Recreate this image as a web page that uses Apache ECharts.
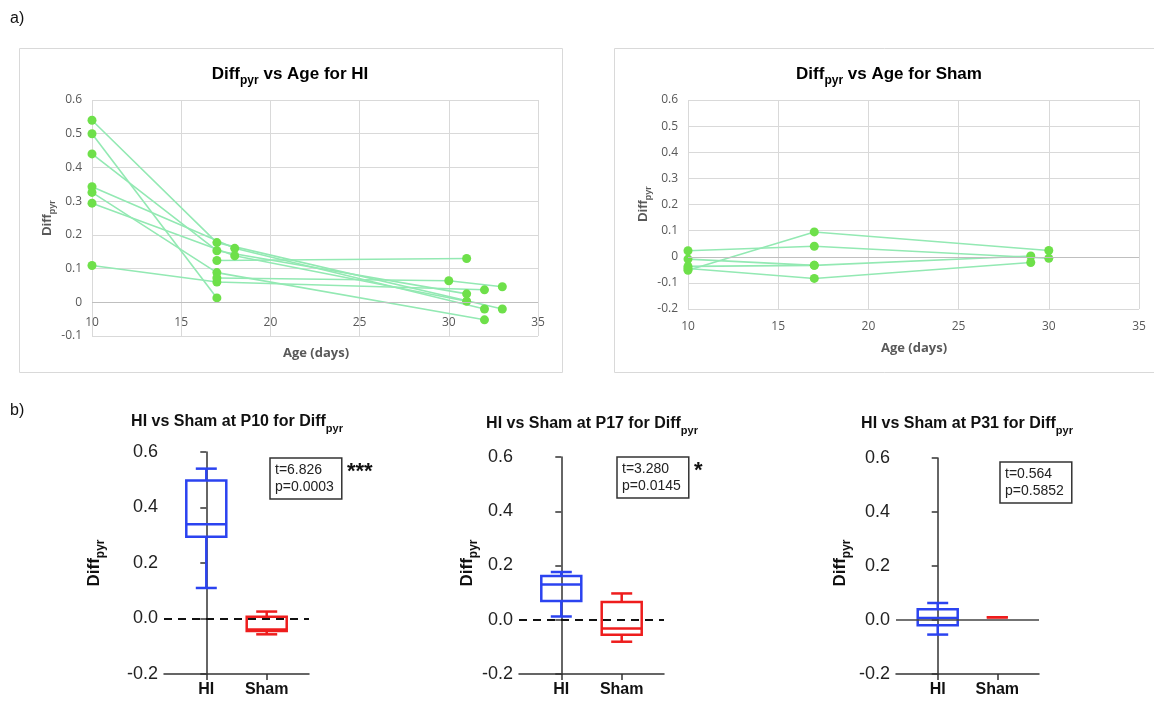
<!DOCTYPE html>
<html>
<head>
<meta charset="utf-8">
<script src="https://cdn.jsdelivr.net/npm/echarts@6.0.0/dist/echarts.min.js"></script>
<style>
  html, body { margin: 0; padding: 0; background: #fff; }
  #chart { width: 1154px; height: 705px; }
</style>
</head>
<body>
<div id="chart"></div>
<script>
// a) Diff_pyr per animal over age, [age (days), Diff_pyr]
var hiSubjects = [
  [[10, 0.54], [17, 0.177], [33, -0.02]],
  [[10, 0.50], [17, 0.013]],
  [[10, 0.44], [17, 0.153], [31, 0.025]],
  [[10, 0.343], [18, 0.16], [32, -0.02]],
  [[10, 0.326], [17, 0.088], [32, -0.052]],
  [[10, 0.294], [18, 0.138], [31, 0.003]],
  [[10, 0.109], [17, 0.06], [32, 0.037]],
  [[17, 0.124], [31, 0.13]],
  [[17, 0.072], [30, 0.064], [33, 0.046]]
];
var shamSubjects = [
  [[10, 0.023], [17, 0.04], [30, -0.006]],
  [[10, -0.052], [17, 0.095], [30, 0.024]],
  [[10, -0.009], [17, -0.033], [29, 0.003]],
  [[10, -0.045], [17, -0.083], [29, -0.022]],
  [[10, -0.037], [17, -0.033]]
];

// b) box stats: [min, q1, median, q3, max]
var groups = ['HI', 'Sham'];
var boxP10 = [[0.11, 0.295, 0.34, 0.497, 0.54], [-0.057, -0.045, -0.04, 0.006, 0.025]];
var boxP17 = [[0.012, 0.069, 0.13, 0.161, 0.176], [-0.081, -0.055, -0.032, 0.065, 0.097]];
var boxP31 = [[-0.054, -0.019, 0.007, 0.04, 0.063], [0.01, 0.01, 0.01, 0.01, 0.01]];
var testP10 = ['t=6.826', 'p=0.0003', '***'];
var testP17 = ['t=3.280', 'p=0.0145', '*'];
var testP31 = ['t=0.564', 'p=0.5852', ''];

var boxColors = ['#2b43f0', '#ee1d1d'];
var sans = 'Liberation Sans, Arial, sans-serif';
var tickFont = 'Open Sans, Liberation Sans, sans-serif';

var chart = echarts.init(document.getElementById('chart'));

function fmt1(v) { return String(Math.round(v * 10) / 10); }
function fmtBox(v) { return (Math.round(v * 10) / 10).toFixed(1); }

function lineSeries(subjects, idx) {
  return subjects.map(function (pts, i) {
    var s = {
      type: 'line', xAxisIndex: idx, yAxisIndex: idx, data: pts,
      symbol: 'circle', symbolSize: 9, showSymbol: true,
      lineStyle: { color: '#93e9b3', width: 1.6 },
      itemStyle: { color: '#6ee04a' },
      animation: false
    };
    if (i === 0) {
      // horizontal axis line at zero
      s.markLine = { silent: true, symbol: 'none', label: { show: false },
        lineStyle: { color: '#bfbfbf', width: 1, type: 'solid' }, data: [{ yAxis: 0 }] };
    }
    return s;
  });
}

function renderBox(params, api) {
  var g = api.value(0);
  var lo = api.coord([g, api.value(1)]);
  var q1 = api.coord([g, api.value(2)]);
  var med = api.coord([g, api.value(3)]);
  var q3 = api.coord([g, api.value(4)]);
  var hi = api.coord([g, api.value(5)]);
  var cx = lo[0], w = 40, cap = 21;
  var st = { stroke: boxColors[g], lineWidth: 2.5, fill: 'rgba(0,0,0,0)' };
  var kids = [
    { type: 'line', shape: { x1: cx, y1: hi[1], x2: cx, y2: q3[1] }, style: st },
    { type: 'line', shape: { x1: cx, y1: q1[1], x2: cx, y2: lo[1] }, style: st },
    { type: 'line', shape: { x1: cx - cap / 2, y1: hi[1], x2: cx + cap / 2, y2: hi[1] }, style: st },
    { type: 'line', shape: { x1: cx - cap / 2, y1: lo[1], x2: cx + cap / 2, y2: lo[1] }, style: st }
  ];
  if (q1[1] - q3[1] > 0.5) {
    kids.push({ type: 'rect', shape: { x: cx - w / 2, y: q3[1], width: w, height: q1[1] - q3[1] }, style: st });
    kids.push({ type: 'line', shape: { x1: cx - w / 2, y1: med[1], x2: cx + w / 2, y2: med[1] }, style: st });
  }
  return { type: 'group', children: kids };
}

function boxSeries(stats, idx, dashed) {
  return {
    type: 'custom', xAxisIndex: idx, yAxisIndex: idx, renderItem: renderBox,
    data: stats.map(function (s, g) { return [g].concat(s); }),
    encode: { x: 0, y: [1, 2, 3, 4, 5] },
    markLine: { silent: true, symbol: 'none', label: { show: false },
      lineStyle: dashed ? { color: '#111', width: 2, type: [8, 6] } : { color: '#444', width: 1.5, type: 'solid' },
      data: [{ yAxis: 0 }] },
    z: 3, animation: false
  };
}

function lineX(idx, labelMargin) {
  return {
    gridIndex: idx, type: 'value', min: 10, max: 35, interval: 5,
    axisLine: { show: false, onZero: false },
    axisTick: { show: false },
    axisLabel: { color: '#595959', fontFamily: tickFont, fontSize: 12, margin: labelMargin },
    splitLine: { show: true, lineStyle: { color: '#d9d9d9' } }
  };
}
function lineY(idx, min) {
  return {
    gridIndex: idx, type: 'value', min: min, max: 0.6, interval: 0.1,
    axisLine: { show: false }, axisTick: { show: false },
    axisLabel: { color: '#595959', fontFamily: tickFont, fontSize: 12, margin: 10, formatter: fmt1 },
    splitLine: { show: true, lineStyle: { color: '#d9d9d9' } }
  };
}
function boxX(idx) {
  return {
    gridIndex: idx, type: 'value', min: -0.7, max: 1.7,
    axisLine: { show: true, onZero: false, lineStyle: { color: '#333', width: 1.5 } },
    axisTick: { show: true, customValues: [0, 1], length: 6, lineStyle: { color: '#333', width: 1.5 } },
    axisLabel: { customValues: [0, 1], formatter: function (v) { return groups[v]; },
      color: '#111', fontFamily: sans, fontWeight: 'bold', fontSize: 16, margin: 8 },
    splitLine: { show: false }
  };
}
function boxY(idx) {
  return {
    gridIndex: idx, type: 'value', min: -0.2, max: 0.6, interval: 0.2,
    axisLine: { show: true, lineStyle: { color: '#333', width: 1.5 } },
    axisTick: { show: true, length: 6, lineStyle: { color: '#333', width: 1.5 } },
    axisLabel: { color: '#222', fontFamily: sans, fontSize: 18, margin: 6, formatter: fmtBox },
    splitLine: { show: false }
  };
}

function richText(x, y, main, sub, rest, size, color, rot) {
  var subSize = Math.round(size * 0.68);
  return {
    type: 'text', x: x, y: y, rotation: rot || 0, silent: true,
    style: {
      text: '{a|' + main + '}{b|' + sub + '}{a|' + rest + '}',
      align: 'center', verticalAlign: 'middle',
      rich: {
        a: { fontFamily: sans, fontWeight: 'bold', fontSize: size, fill: color, lineHeight: size + 8 },
        b: { fontFamily: sans, fontWeight: 'bold', fontSize: subSize, fill: color, verticalAlign: 'bottom' }
      }
    }
  };
}
function statBox(x, y, t) {
  return [
    { type: 'text', x: x, y: y, silent: true,
      style: { text: t[0] + '\n' + t[1], fontFamily: sans, fontSize: 14, lineHeight: 17, fill: '#222',
        borderColor: '#333', borderWidth: 1.5, padding: [4, 8, 3, 5] } },
    { type: 'text', x: x + 77, y: y + 3, silent: true,
      style: { text: t[2], fontFamily: sans, fontWeight: 'bold', fontSize: 22, fill: '#111' } }
  ];
}

var option = {
  animation: false,
  grid: [
    { left: 92, top: 100, width: 446, height: 236 },
    { left: 688, top: 100, width: 451, height: 209 },
    { left: 164, top: 452, width: 145, height: 222 },
    { left: 519, top: 457, width: 145, height: 217 },
    { left: 896, top: 458, width: 143, height: 216 }
  ],
  xAxis: [lineX(0, -19), lineX(1, 12), boxX(2), boxX(3), boxX(4)],
  yAxis: [lineY(0, -0.1), lineY(1, -0.2), boxY(2), boxY(3), boxY(4)],
  series: []
    .concat(lineSeries(hiSubjects, 0))
    .concat(lineSeries(shamSubjects, 1))
    .concat([boxSeries(boxP10, 2, true), boxSeries(boxP17, 3, true), boxSeries(boxP31, 4, false)]),
  graphic: [
    { type: 'rect', silent: true, shape: { x: 19.5, y: 48.5, width: 543, height: 324 },
      style: { fill: 'none', stroke: '#d9d9d9', lineWidth: 1 } },
    { type: 'rect', silent: true, shape: { x: 614.5, y: 48.5, width: 560, height: 324 },
      style: { fill: 'none', stroke: '#d9d9d9', lineWidth: 1 } },
    { type: 'text', x: 10, y: 11, silent: true,
      style: { text: 'a)', fontFamily: 'Liberation Sans Narrow, ' + sans, fontSize: 16, fill: '#111' } },
    { type: 'text', x: 10, y: 403, silent: true,
      style: { text: 'b)', fontFamily: 'Liberation Sans Narrow, ' + sans, fontSize: 16, fill: '#111' } },
    richText(290, 74, 'Diff', 'pyr', ' vs Age for HI', 17, '#000'),
    richText(889, 74, 'Diff', 'pyr', ' vs Age for Sham', 17, '#000'),
    richText(47, 218, 'Diff', 'pyr', '', 13, '#595959', Math.PI / 2),
    richText(643, 204, 'Diff', 'pyr', '', 13, '#595959', Math.PI / 2),
    { type: 'text', x: 316, y: 353, silent: true,
      style: { text: 'Age (days)', align: 'center', verticalAlign: 'middle', fontFamily: tickFont, fontWeight: 'bold', fontSize: 13, fill: '#595959' } },
    { type: 'text', x: 914, y: 348, silent: true,
      style: { text: 'Age (days)', align: 'center', verticalAlign: 'middle', fontFamily: tickFont, fontWeight: 'bold', fontSize: 13, fill: '#595959' } },
    richText(237, 422, 'HI vs Sham at P10 for Diff', 'pyr', '', 16, '#111'),
    richText(592, 424, 'HI vs Sham at P17 for Diff', 'pyr', '', 16, '#111'),
    richText(967, 424, 'HI vs Sham at P31 for Diff', 'pyr', '', 16, '#111'),
    richText(94, 563, 'Diff', 'pyr', '', 17, '#111', Math.PI / 2),
    richText(467, 563, 'Diff', 'pyr', '', 17, '#111', Math.PI / 2),
    richText(840, 563, 'Diff', 'pyr', '', 17, '#111', Math.PI / 2)
  ]
    .concat(statBox(270, 458, testP10))
    .concat(statBox(617, 457, testP17))
    .concat(statBox(1000, 462, testP31))
};
chart.setOption(option);

window.addEventListener('resize', function () { chart.resize(); });
</script>
</body>
</html>
